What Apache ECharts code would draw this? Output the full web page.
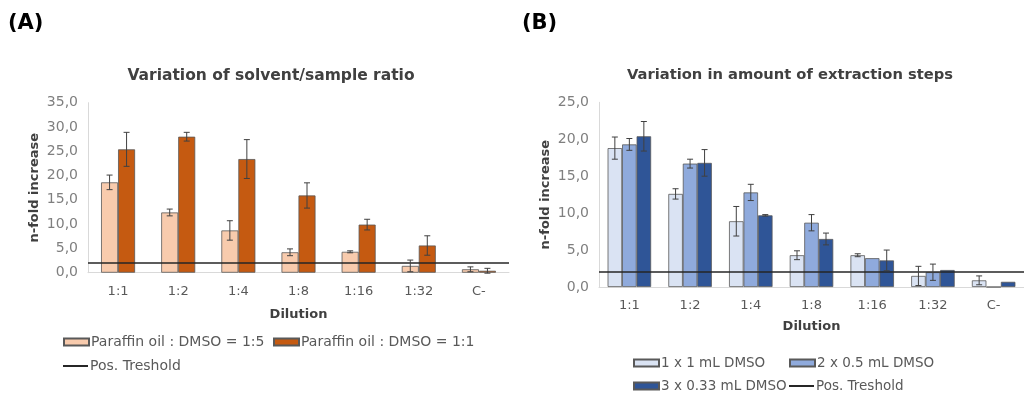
<!DOCTYPE html>
<html>
<head>
<meta charset="utf-8">
<script src="https://cdn.jsdelivr.net/npm/echarts@6/dist/echarts.min.js"></script>
<style>
html, body { margin: 0; padding: 0; background: #fff; }
#container1 { width: 1024px; height: 394px; }
</style>
</head>
<body>
<div id="container1"></div>
<script>
var dilutions = ['1:1', '1:2', '1:4', '1:8', '1:16', '1:32', 'C-'];
var threshold = 2;

// panel A
var ratio15 = [18.6, 12.4, 8.7, 4.2, 4.3, 1.4, 0.7];
var ratio15Err = [1.5, 0.7, 2.0, 0.7, 0.2, 1.2, 0.5];
var ratio11 = [25.4, 28.0, 23.4, 15.9, 9.9, 5.6, 0.4];
var ratio11Err = [3.5, 0.9, 4.0, 2.6, 1.1, 2.0, 0.5];
var ticksA = [0, 35, 5];

// panel B
var steps1 = [18.8, 12.6, 8.9, 4.3, 4.3, 1.5, 0.9];
var steps1Err = [1.5, 0.7, 2.0, 0.6, 0.2, 1.3, 0.6];
var steps2 = [19.3, 16.7, 12.8, 8.7, 3.9, 2.0, 0];
var steps2Err = [0.8, 0.6, 1.1, 1.1, 0, 1.1, 0];
var steps3 = [20.4, 16.8, 9.7, 6.5, 3.6, 2.3, 0.7];
var steps3Err = [2.0, 1.8, 0.1, 0.8, 1.4, 0, 0];
var ticksB = [0, 25, 5];

var dom = document.getElementById("container1");
var myChart = echarts.init(dom);

var font = 'DejaVu Sans, sans-serif';
var grey = '#595959';

function fmt(v) { return v.toFixed(1).replace('.', ','); }

function errData(vals, errs) {
    return vals.map(function (v, i) { return [i, v, errs[i]]; });
}

// draws an error bar at a fixed pixel offset from the category centre
function errBar(offset) {
    return function (params, api) {
        var x = api.value(0), v = api.value(1), e = api.value(2);
        if (!e) return;
        var top = api.coord([x, v + e]);
        var bot = api.coord([x, v - e]);
        var px = top[0] + offset;
        var st = { stroke: '#404040', lineWidth: 1 };
        return {
            type: 'group',
            children: [
                { type: 'line', shape: { x1: px, y1: top[1], x2: px, y2: bot[1] }, style: st },
                { type: 'line', shape: { x1: px - 3, y1: top[1], x2: px + 3, y2: top[1] }, style: st },
                { type: 'line', shape: { x1: px - 3, y1: bot[1], x2: px + 3, y2: bot[1] }, style: st }
            ]
        };
    };
}

function xAxis(idx) {
    return {
        type: 'category', gridIndex: idx, data: dilutions,
        name: 'Dilution', nameLocation: 'middle', nameGap: idx ? 33 : 35,
        nameTextStyle: { color: '#404040', fontWeight: 'bold', fontSize: 13, fontFamily: font },
        axisLine: { lineStyle: { color: '#d9d9d9' } },
        axisTick: { alignWithLabel: true, length: 4, lineStyle: { color: '#d9d9d9' } },
        axisLabel: { color: grey, fontSize: 13, margin: 12, fontFamily: font }
    };
}

function yAxis(idx, t) {
    return {
        type: 'value', gridIndex: idx, min: t[0], max: t[1], interval: t[2],
        name: 'n-fold increase', nameLocation: 'middle', nameGap: 47,
        nameTextStyle: { color: '#404040', fontWeight: 'bold', fontSize: 13, fontFamily: font },
        axisLine: { show: true, lineStyle: { color: '#d9d9d9' } },
        axisTick: { show: false },
        splitLine: { show: false },
        axisLabel: { color: '#7f7f7f', fontSize: 14, margin: 10, fontFamily: font, formatter: fmt }
    };
}

function bar(name, idx, vals, color, w) {
    return {
        name: name, type: 'bar', xAxisIndex: idx, yAxisIndex: idx,
        data: vals, barWidth: w, barGap: '0%',
        itemStyle: { color: color, borderColor: '#595959', borderWidth: 0.8 },
        silent: true
    };
}

function err(idx, vals, errs, offset) {
    return {
        type: 'custom', xAxisIndex: idx, yAxisIndex: idx, z: 5,
        data: errData(vals, errs), renderItem: errBar(offset), silent: true
    };
}

function thresh(idx) {
    return {
        name: 'Pos. Treshold', type: 'line', xAxisIndex: idx, yAxisIndex: idx,
        data: [], color: '#262626', z: 6,
        lineStyle: { color: '#262626', width: 1.5 },
        markLine: {
            symbol: 'none', silent: true, label: { show: false },
            lineStyle: { color: '#262626', width: 1.5, type: 'solid' },
            data: [{ yAxis: threshold }]
        }
    };
}

function legend(item, left, top, h, size) {
    return {
        data: [item], left: left, top: top, itemWidth: 25, itemHeight: h, padding: 0,
        icon: 'rect', selectedMode: false,
        textStyle: { color: grey, fontSize: size, fontFamily: font, padding: [0, 0, 0, -3] }
    };
}

option = {
    animation: false,
    textStyle: { fontFamily: font },
    title: [
        { text: '(A)', left: 3, top: 8, textStyle: { fontSize: 21, fontWeight: 'bold', color: '#000', fontFamily: font } },
        { text: '(B)', left: 517, top: 8, textStyle: { fontSize: 21, fontWeight: 'bold', color: '#000', fontFamily: font } },
        { text: 'Variation of solvent/sample ratio', left: 266, top: 63, textAlign: 'center',
          textStyle: { fontSize: 15.5, fontWeight: 'bold', color: '#404040', fontFamily: font } },
        { text: 'Variation in amount of extraction steps', left: 785, top: 63, textAlign: 'center',
          textStyle: { fontSize: 14.7, fontWeight: 'bold', color: '#404040', fontFamily: font } }
    ],
    grid: [
        { left: 88, top: 102.7, width: 421, height: 170 },
        { left: 599, top: 102.3, width: 434, height: 184.7 }
    ],
    xAxis: [xAxis(0), xAxis(1)],
    yAxis: [yAxis(0, ticksA), yAxis(1, ticksB)],
    legend: [
        legend('Paraffin oil : DMSO = 1:5', 63, 335, 7, 14),
        legend('Paraffin oil : DMSO = 1:1', 273, 335, 7, 14),
        legend('Pos. Treshold', 63, 359, 2, 14),
        legend('1 x 1 mL DMSO', 633, 356, 7, 13.5),
        legend('2 x 0.5 mL DMSO', 789, 356, 7, 13.5),
        legend('3 x 0.33 mL DMSO', 633, 379, 7, 13.5),
        legend('Pos. Treshold', 789, 379, 2, 13.5)
    ],
    series: [
        bar('Paraffin oil : DMSO = 1:5', 0, ratio15, '#f8cbad', 17),
        bar('Paraffin oil : DMSO = 1:1', 0, ratio11, '#c55a11', 17),
        err(0, ratio15, ratio15Err, -8.5),
        err(0, ratio11, ratio11Err, 8.5),
        thresh(0),
        bar('1 x 1 mL DMSO', 1, steps1, '#dae3f3', 14.5),
        bar('2 x 0.5 mL DMSO', 1, steps2, '#8faadc', 14.5),
        bar('3 x 0.33 mL DMSO', 1, steps3, '#2f5597', 14.5),
        err(1, steps1, steps1Err, -14.5),
        err(1, steps2, steps2Err, 0),
        err(1, steps3, steps3Err, 14.5),
        thresh(1)
    ]
};

if (option && typeof option === "object") {
    myChart.setOption(option, true);
}
</script>
</body>
</html>
